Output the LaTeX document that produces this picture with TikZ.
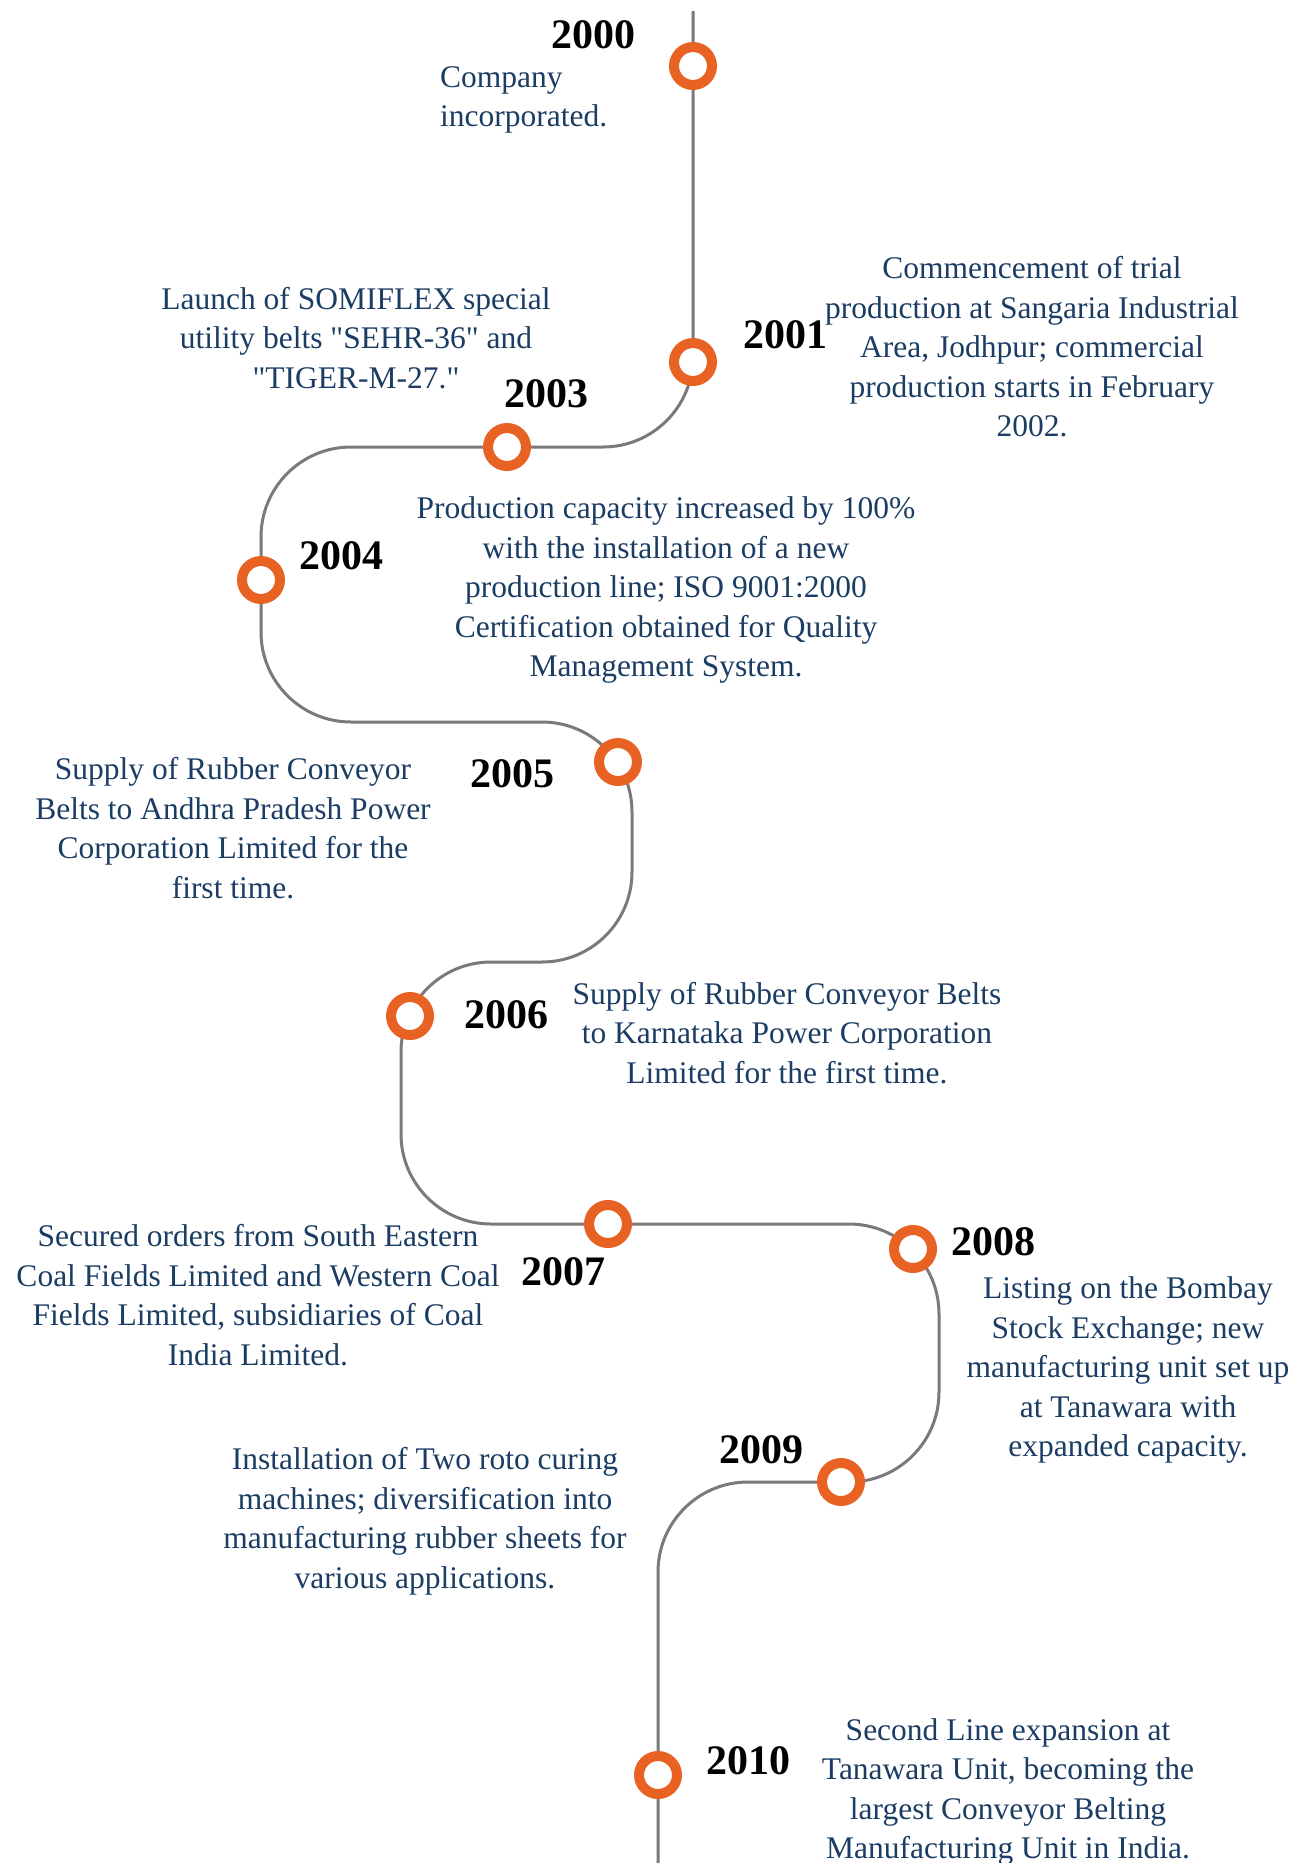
\documentclass[tikz,border=0pt]{standalone}
\usepackage{fontspec}
\setmainfont{Liberation Serif}
\usepackage{tikz}

\definecolor{ringorange}{RGB}{232,98,36}
\definecolor{descblue}{RGB}{27,61,99}
\definecolor{linegray}{RGB}{122,122,122}

\tikzset{
  tline/.style={draw=linegray, line width=3pt, rounded corners=90pt},
  ring/.style={circle, draw=ringorange, line width=10pt, fill=white, minimum size=38pt, inner sep=0pt},
  year/.style={inner sep=0pt, font=\fontsize{42}{50}\selectfont\bfseries},
  desc/.style={inner sep=0pt, text=descblue, align=center, font=\fontsize{31.5}{39.5}\selectfont}
}

\begin{document}
\begin{tikzpicture}[x=1pt,y=-1pt]
			\useasboundingbox (0,0) rectangle (1310,1863);
			\clip (0,0) rectangle (1310,1863);
			\coordinate (top) at (693,11);
			\coordinate (c1) at (693,447);
			\coordinate (c2) at (261,447);
			\coordinate (c3) at (261,722);
			\coordinate (c4) at (632,722);
			\coordinate (c5) at (632,962);
			\coordinate (c6) at (401,962);
			\coordinate (c7) at (401,1224);
			\coordinate (c8) at (939,1224);
			\coordinate (c9) at (939,1482);
			\coordinate (c10) at (658,1482);
			\coordinate (bot) at (658,1863);
			\draw [tline] (top) -- (c1) -- (c2) -- (c3) -- (c4) -- (c5) -- (c6) -- (c7) -- (c8) -- (c9) -- (c10) -- (bot);
			\node [ring] (r2000) at (693,66) {};
			\node [ring] (r2001) at (693,362) {};
			\node [ring] (r2003) at (507,447) {};
			\node [ring] (r2004) at (261,580) {};
			\node [ring] (r2005) at (618,762) {};
			\node [ring] (r2006) at (410,1016) {};
			\node [ring] (r2007) at (608,1224) {};
			\node [ring] (r2008) at (913,1249) {};
			\node [ring] (r2009) at (841,1482) {};
			\node [ring] (r2010) at (658,1775) {};
			\node [year] (y2000) at (593,35) {2000};
			\node [year] (y2001) at (785,335) {2001};
			\node [year] (y2003) at (546,394) {2003};
			\node [year] (y2004) at (341,556) {2004};
			\node [year] (y2005) at (512,774) {2005};
			\node [year] (y2006) at (506,1015) {2006};
			\node [year] (y2007) at (563,1272) {2007};
			\node [year] (y2008) at (993,1242) {2008};
			\node [year] (y2009) at (761,1450) {2009};
			\node [year] (y2010) at (748,1761) {2010};
			\node [desc, align=left, anchor=west] (d2000) at (440,100) {Company\\incorporated.};
			\node [desc] (d2001) at (1032,347) {Commencement of trial\\production at Sangaria Industrial\\Area, Jodhpur; commercial\\production starts in February\\2002.};
			\node [desc] (d2003) at (356,338) {Launch of SOMIFLEX special\\utility belts \textquotedbl SEHR-36\textquotedbl{} and\\\textquotedbl TIGER-M-27.\textquotedbl};
			\node [desc] (d2004) at (666,590) {Production capacity increased by 100\%\\with the installation of a new\\production line; ISO 9001:2000\\Certification obtained for Quality\\Management System.};
			\node [desc] (d2005) at (233,828) {Supply of Rubber Conveyor\\Belts to Andhra Pradesh Power\\Corporation Limited for the\\first time.};
			\node [desc] (d2006) at (787,1033) {Supply of Rubber Conveyor Belts\\to Karnataka Power Corporation\\Limited for the first time.};
			\node [desc] (d2007) at (258,1295) {Secured orders from South Eastern\\Coal Fields Limited and Western Coal\\Fields Limited, subsidiaries of Coal\\India Limited.};
			\node [desc] (d2008) at (1128,1370) {Listing on the Bombay\\Stock Exchange; new\\manufacturing unit set up\\at Tanawara with\\expanded capacity.};
			\node [desc] (d2009) at (425,1521) {Installation of Two roto curing\\machines; diversification into\\manufacturing rubber sheets for\\various applications.};
			\node [desc] (d2010) at (1008,1792) {Second Line expansion at\\Tanawara Unit, becoming the\\largest Conveyor Belting\\Manufacturing Unit in India.};
		\end{tikzpicture}
\end{document}
